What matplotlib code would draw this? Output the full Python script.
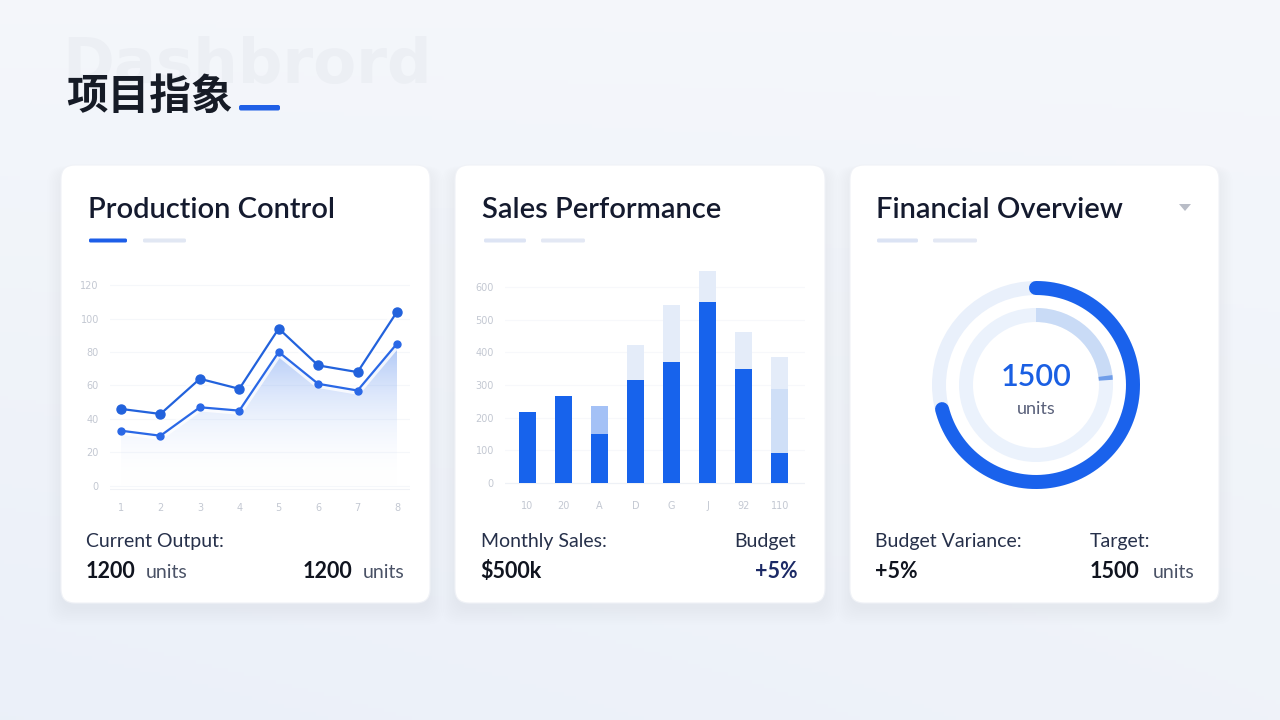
import numpy as np
import matplotlib
matplotlib.use("Agg")
import matplotlib.pyplot as plt
from matplotlib.patches import FancyBboxPatch, Wedge, Polygon
from matplotlib.colors import LinearSegmentedColormap

# ---------------- data ----------------
page_title = "项目指象"
watermark = "Dashbrord"
card_titles = ["Production Control", "Sales Performance", "Financial Overview"]

line_x_labels = ["1", "2", "3", "4", "5", "6", "7", "8"]
line_yticks = [0, 20, 40, 60, 80, 100, 120]
output_upper = [46, 43, 64, 58, 94, 72, 68, 104]
output_lower = [33, 30, 47, 45, 80, 61, 57, 85]

bar_x_labels = ["10", "20", "A", "D", "G", "J", "92", "110"]
bar_yticks = [0, 100, 200, 300, 400, 500, 600]
sales_actual = [217, 266, 150, 315, 370, 553, 349, 92]
sales_forecast = [0, 0, 235, 0, 0, 0, 0, 287]
sales_target = [217, 266, 235, 422, 544, 648, 462, 385]

gauge_outer = 0.71
gauge_inner = 0.235
gauge_value = "1500"
gauge_unit = "units"

W, H = 1280, 720
fig = plt.figure(figsize=(12.8, 7.2), dpi=100)

def fx(x):
    return x / W

def fy(y):
    return 1 - y / H

def add_ax(x0, y0, x1, y1, **kw):
    return fig.add_axes([fx(x0), fy(y1), (x1 - x0) / W, (y1 - y0) / H], **kw)

# ---------------- background ----------------
bg = add_ax(0, 0, W, H)
bg.set_xlim(0, W)
bg.set_ylim(H, 0)
bg.axis("off")
yy, xx = np.mgrid[0:H:4, 0:W:4]
base = np.array([0.958, 0.967, 0.982])
blue = np.array([0.912, 0.935, 0.975])
t = np.clip(0.45 * (yy / H) + 0.35 * (1 - xx / W) * (yy / H), 0, 1)
img = base[None, None, :] * (1 - t[..., None]) + blue[None, None, :] * t[..., None]
bg.imshow(img, extent=[0, W, H, 0], aspect="auto", zorder=0)

# watermark & title
bg.text(62, 66, watermark, fontsize=45, fontweight="bold", color="#eceff4",
        va="center", ha="left", family=["DejaVu Sans"], zorder=1)
bg.text(66, 97, page_title, fontsize=30, fontweight="bold", color="#161b26",
        va="center", ha="left", family=["Noto Sans CJK SC", "DejaVu Sans"], zorder=2)
bg.add_patch(FancyBboxPatch((239, 105), 41, 5.5, boxstyle="round,pad=0,rounding_size=2",
                            fc="#1f5fe6", ec="none", zorder=2))

# cards
cards = [(61, 165, 430, 603), (455, 165, 825, 603), (850, 165, 1219, 603)]
for (x0, y0, x1, y1) in cards:
    for i in range(10):
        bg.add_patch(FancyBboxPatch((x0 - i * 1.5, y0 + 6 - i * 0.5), (x1 - x0) + i * 3, (y1 - y0) + i * 2.2,
                                    boxstyle="round,pad=0,rounding_size=16",
                                    fc="#a3b3d0", ec="none", alpha=0.011, zorder=2))
    bg.add_patch(FancyBboxPatch((x0, y0), x1 - x0, y1 - y0, boxstyle="round,pad=0,rounding_size=14",
                                fc="#ffffff", ec="#f0f2f7", lw=0.8, zorder=3))

title_x = [88, 482, 876]
for tx, title in zip(title_x, card_titles):
    bg.text(tx, 210, title, fontsize=21, color="#141a2e", va="center", ha="left",
            family=["Lato", "DejaVu Sans"], fontweight="semibold", zorder=4)

# small header bars
bar_specs = [
    [(89, 127, "#1d5ee8"), (143, 186, "#e1e7f3")],
    [(484, 526, "#dde4f4"), (541, 585, "#e3e8f4")],
    [(877, 918, "#dbe3f4"), (933, 977, "#e3e8f4")],
]
for specs in bar_specs:
    for (a, b, c) in specs:
        bg.add_patch(FancyBboxPatch((a, 238.5), b - a, 4, boxstyle="round,pad=0,rounding_size=1.5",
                                    fc=c, ec="none", zorder=4))

# dropdown triangle
bg.add_patch(Polygon([[1179, 204], [1191, 204], [1185, 211]], closed=True, fc="#b9bdc7", ec="none", zorder=4))

# bottom text
lab_kw = dict(fontsize=14, color="#26304a", va="center", family=["Lato", "DejaVu Sans"], zorder=4)
num_kw = dict(fontsize=15.5, color="#10141f", va="center", fontweight="bold",
              family=["Lato", "DejaVu Sans"], zorder=4)
unit_kw = dict(fontsize=14, color="#4a5266", va="center", family=["Lato", "DejaVu Sans"], zorder=4)

bg.text(86, 541, "Current Output:", ha="left", **lab_kw)
bg.text(86, 572, "1200", ha="left", **num_kw)
bg.text(146, 572, "units", ha="left", **unit_kw)
bg.text(303, 572, "1200", ha="left", **num_kw)
bg.text(405, 572, "units", ha="right", **unit_kw)

bg.text(481, 541, "Monthly Sales:", ha="left", **lab_kw)
bg.text(480, 572, "$500k", ha="left", **num_kw)
bg.text(796, 541, "Budget", ha="right", **lab_kw)
bg.text(798, 572, "+5%", ha="right", **dict(num_kw, color="#1c2a66"))

bg.text(875, 541, "Budget Variance:", ha="left", **lab_kw)
bg.text(875, 572, "+5%", ha="left", **num_kw)
bg.text(1090, 541, "Target:", ha="left", **lab_kw)
bg.text(1090, 572, "1500", ha="left", **num_kw)
bg.text(1194, 572, "units", ha="right", **unit_kw)

tick_color = "#c3c8d2"

# ---------------- line chart ----------------
ax1 = add_ax(110, 280, 410, 492)
ax1.set_facecolor("none")
x = np.arange(len(output_upper))
for s in ax1.spines.values():
    s.set_visible(False)
ax1.set_yticks(line_yticks)
ax1.set_yticklabels([str(v) for v in line_yticks])
ax1.set_xticks(x)
ax1.set_xticklabels(line_x_labels)
ax1.tick_params(length=0, labelsize=7, colors=tick_color, pad=8)
ax1.grid(axis="y", color="#f5f7fa", lw=0.8)
ax1.set_axisbelow(True)

poly = ax1.fill_between(x, output_lower, 0, color="none", lw=0)
cmap = LinearSegmentedColormap.from_list("g", [(1, 1, 1, 0.0), (0.35, 0.55, 0.93, 0.50)])
grad = np.linspace(0, 1, 256).reshape(-1, 1)
im = ax1.imshow(grad, extent=[x[0], x[-1], 0, max(output_lower)], origin="lower", cmap=cmap,
                aspect="auto", zorder=1)
im.set_clip_path(poly.get_paths()[0], transform=ax1.transData)
ax1.set_xlim(-0.28, 7.33)
ax1.set_ylim(-3.6, 123)

ax1.plot(x, output_upper, color="white", lw=6, alpha=0.8, zorder=2, solid_capstyle="round")
ax1.plot(x, output_lower, color="white", lw=6, alpha=0.8, zorder=2, solid_capstyle="round")
ax1.plot(x, output_upper, color="#2262dc", lw=1.6, marker="o", ms=6.5, zorder=3)
ax1.plot(x, output_lower, color="#2a68e6", lw=1.6, marker="o", ms=5, zorder=3)
ax1.axhline(-2, color="#f0f2f6", lw=0.8, zorder=0)

# ---------------- bar chart ----------------
ax2 = add_ax(505, 265, 805, 490)
ax2.set_facecolor("none")
xb = np.arange(len(sales_actual))
ax2.set_xlim(-0.61, 7.70)
ax2.set_ylim(-21.4, 667)
for s in ax2.spines.values():
    s.set_visible(False)
ax2.set_yticks(bar_yticks)
ax2.set_yticklabels([str(v) for v in bar_yticks])
ax2.set_xticks(xb)
ax2.set_xticklabels(bar_x_labels)
ax2.tick_params(length=0, labelsize=7, colors=tick_color, pad=8)
ax2.grid(axis="y", color="#f7f8fb", lw=0.8)
ax2.set_axisbelow(True)

bw = 0.47
target_colors = ["#e4ecf9"] * 8
forecast_colors = ["#a4c1f6" if i == 2 else "#cfdff7" for i in range(8)]
ax2.bar(xb, sales_target, width=bw, color=target_colors, zorder=2)
ax2.bar(xb, sales_forecast, width=bw, color=forecast_colors, zorder=3)
ax2.bar(xb, sales_actual, width=bw, color="#1763ec", zorder=4)
ax2.axhline(0, color="#eef1f6", lw=0.8, zorder=1)

# ---------------- gauge ----------------
ax3 = add_ax(916, 265, 1156, 505)
ax3.set_xlim(-120, 120)
ax3.set_ylim(-120, 120)
ax3.set_aspect("equal")
ax3.axis("off")
ax3.set_facecolor("none")

ax3.add_patch(Wedge((0, 0), 104, 0, 360, width=14, fc="#e9f0fb", ec="none", zorder=1))
th = np.linspace(90, 90 - 360 * gauge_outer, 300)
r = 97
ax3.plot(r * np.cos(np.radians(th)), r * np.sin(np.radians(th)), color="#1a62ec",
         lw=14 * 0.72, solid_capstyle="round", zorder=2)
ax3.add_patch(Wedge((0, 0), 77, 0, 360, width=14, fc="#ebf2fc", ec="none", zorder=1))
ax3.add_patch(Wedge((0, 0), 77, 90 - 360 * gauge_inner, 90, width=14, fc="#c9dbf6", ec="none", zorder=2))
ang_end = 90 - 360 * gauge_inner
ax3.add_patch(Wedge((0, 0), 77, ang_end - 1.5, ang_end + 2.0, width=14, fc="#6f9de9", ec="none", zorder=3))

ax3.text(0, 8, gauge_value, ha="center", va="center", fontsize=22, color="#1a5fe3",
         family=["Lato", "DejaVu Sans"], fontweight="semibold", zorder=4)
ax3.text(0, -24, gauge_unit, ha="center", va="center", fontsize=13, color="#59607a",
         family=["Lato", "DejaVu Sans"], zorder=4)

fig.savefig("out.png", dpi=100)
